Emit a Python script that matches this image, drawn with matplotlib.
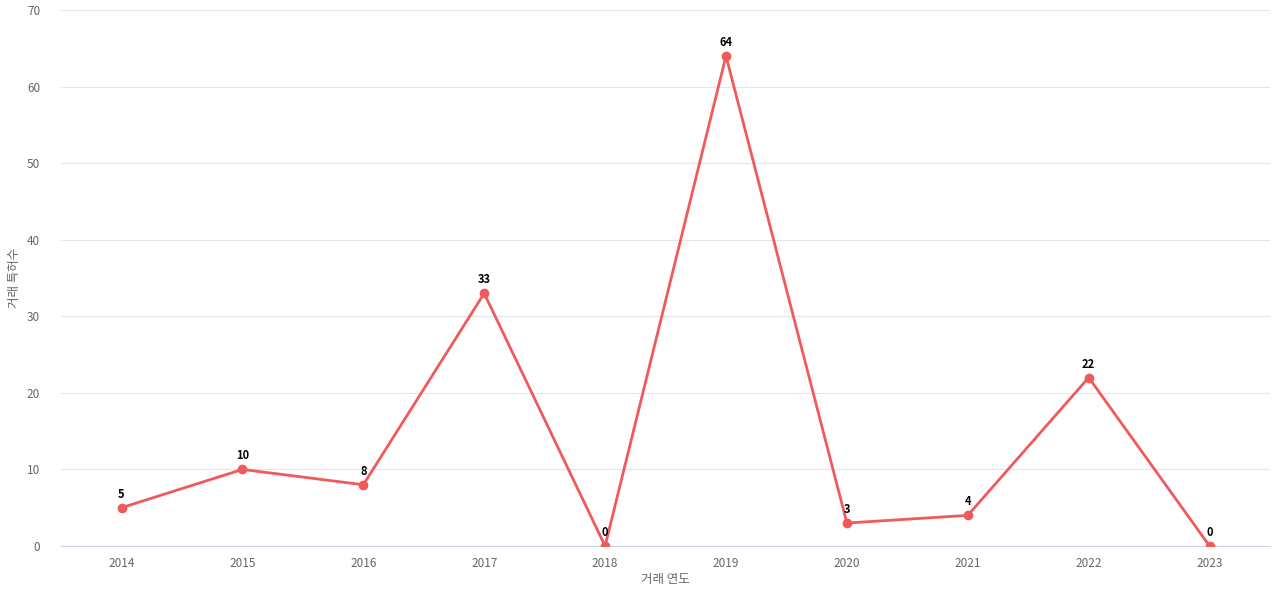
import matplotlib.pyplot as plt

plt.rcParams['font.family'] = ['Noto Sans CJK KR', 'DejaVu Sans']

years = ["2014", "2015", "2016", "2017", "2018", "2019", "2020", "2021", "2022", "2023"]
counts = [5, 10, 8, 33, 0, 64, 3, 4, 22, 0]

fig = plt.figure(figsize=(12.8, 6), dpi=100)
ax = fig.add_axes([0.0477, 0.09, 0.9445, 0.8933])
x = range(len(years))
ax.plot(x, counts, color="#f05a5a", linewidth=2, marker="o", markersize=6, zorder=3)
for i, v in zip(x, counts):
    ax.annotate(str(v), (i, v), xytext=(0, 5), textcoords="offset points",
                ha="center", va="bottom", fontsize=8, fontweight="bold", color="black")

ax.set_xlim(-0.5, len(years) - 0.5)
ax.set_ylim(0, 70)
ax.set_yticks(range(0, 71, 10))
ax.set_xticks(list(x))
ax.set_xticklabels(years)
ax.grid(axis="y", color="#e6e6e6", linewidth=0.8)
ax.set_axisbelow(True)
for s in ["top", "right", "left"]:
    ax.spines[s].set_visible(False)
ax.spines["bottom"].set_color("#ccd6eb")
ax.tick_params(axis="both", length=0, labelsize=8.5, colors="#666666", pad=8)
ax.tick_params(axis="y", pad=15)
ax.set_xlabel("거래 연도", fontsize=9, color="#666666", labelpad=2)
ax.set_ylabel("거래 특허수", fontsize=9, color="#666666", labelpad=4)

fig.savefig("out.png", dpi=100)
